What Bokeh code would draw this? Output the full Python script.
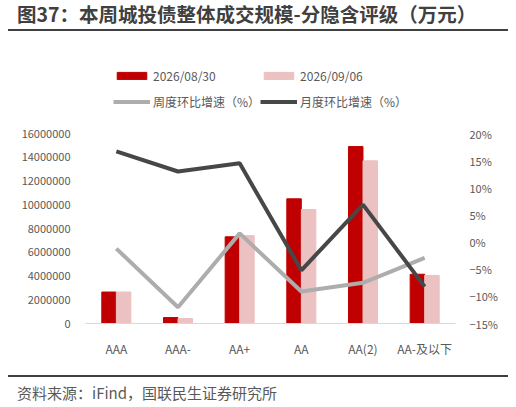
from bokeh.plotting import figure
from bokeh.models import (FactorRange, Range1d, LinearAxis, FixedTicker, Legend, LegendItem,
                          Div, ColumnDataSource, BasicTickFormatter)
from bokeh.transform import dodge
from bokeh.layouts import column
from bokeh.embed import file_html
from bokeh.resources import INLINE

categories = ["AAA", "AAA-", "AA+", "AA", "AA(2)", "AA-及以下"]
vol_0830 = [2650000, 500000, 7300000, 10500000, 14900000, 4150000]
vol_0906 = [2650000, 420000, 7400000, 9600000, 13700000, 4050000]
weekly_pct = [-1.2, -12.0, 1.6, -9.1, -7.5, -2.9]
monthly_pct = [16.7, 13.0, 14.5, -5.2, 6.9, -8.2]
left_ticks = [0, 2000000, 4000000, 6000000, 8000000, 10000000, 12000000, 14000000, 16000000]
right_ticks = [-15, -10, -5, 0, 5, 10, 15, 20]
right_labels = ["\u221215%", "\u221210%", "\u22125%", "0%", "5%", "10%", "15%", "20%"]
series_names = ["2026/08/30", "2026/09/06", "周度环比增速（%）", "月度环比增速（%）"]
title_text = "图37：本周城投债整体成交规模-分隐含评级（万元）"
source_text = "资料来源：iFind，国联民生证券研究所"

FONT = "Noto Sans CJK SC"
TXT = "#595959"

# plot frame is extended upward so that the legend sits inside it (space above the 16M / 20% ticks)
AXIS_PX = 190.0
FRAME_PX = 263.0
left_max = left_ticks[-1] * FRAME_PX / AXIS_PX
right_max = right_ticks[0] + (right_ticks[-1] - right_ticks[0]) * FRAME_PX / AXIS_PX

src = ColumnDataSource(dict(cat=categories, v1=vol_0830, v2=vol_0906, w=weekly_pct, m=monthly_pct))

p = figure(x_range=FactorRange(*categories), y_range=Range1d(0, left_max),
           width=500, height=342, output_backend="svg", toolbar_location=None,
           min_border_left=77, min_border_right=53, min_border_top=27, min_border_bottom=52)
p.extra_y_ranges = {"pct": Range1d(right_ticks[0], right_max)}
p.outline_line_color = None
p.xgrid.visible = False
p.ygrid.visible = False

r1 = p.vbar(x=dodge("cat", -0.118, range=p.x_range), top="v1", width=0.235, source=src,
            fill_color="#C00000", line_color="#C00000")
r2 = p.vbar(x=dodge("cat", 0.118, range=p.x_range), top="v2", width=0.235, source=src,
            fill_color="#EBC1C1", line_color="#EBC1C1")
r3 = p.line(x="cat", y="w", source=src, y_range_name="pct", line_color="#ADADAD", line_width=4)
r4 = p.line(x="cat", y="m", source=src, y_range_name="pct", line_color="#474747", line_width=4)

ya = p.yaxis[0]
ya.ticker = FixedTicker(ticks=left_ticks)
ya.formatter = BasicTickFormatter(use_scientific=False)
ya.axis_line_color = None
ya.major_tick_line_color = None
ya.minor_tick_line_color = None
ya.major_label_text_font = FONT
ya.major_label_text_font_size = "11px"
ya.major_label_text_color = TXT
ya.major_label_standoff = 9

ra = LinearAxis(y_range_name="pct", ticker=FixedTicker(ticks=right_ticks),
                major_label_overrides={t: l for t, l in zip(right_ticks, right_labels)})
ra.axis_line_color = None
ra.major_tick_line_color = None
ra.minor_tick_line_color = None
ra.major_label_text_font = FONT
ra.major_label_text_font_size = "11px"
ra.major_label_text_color = TXT
ra.major_label_standoff = 8
p.add_layout(ra, "right")

xa = p.xaxis[0]
xa.axis_line_color = "#D9D9D9"
xa.major_tick_line_color = None
xa.minor_tick_line_color = None
xa.major_label_text_font = FONT
xa.major_label_text_font_size = "12px"
xa.major_label_text_color = TXT
xa.major_label_standoff = 10

legend = Legend(items=[LegendItem(label=series_names[0], renderers=[r1]),
                       LegendItem(label=series_names[1], renderers=[r2]),
                       LegendItem(label=series_names[2], renderers=[r3]),
                       LegendItem(label=series_names[3], renderers=[r4])],
                orientation="horizontal", ncols=2,
                location=(28, 209), padding=0, margin=0, spacing=0,
                glyph_width=37, glyph_height=9, label_height=26, label_standoff=3,
                label_text_font=FONT, label_text_font_size="12px", label_text_color=TXT,
                border_line_color=None, background_fill_alpha=0)
p.add_layout(legend, "center")

title = Div(text=f'<div style="font-family:\'{FONT}\';font-size:19.5px;font-weight:bold;color:#404040;'
                 f'width:500px;height:31px;line-height:28px;padding-left:9px;box-sizing:border-box;'
                 f'border-bottom:2px solid #404040;white-space:nowrap;">{title_text}</div>',
            width=500, height=33, margin=(0, 0, 0, 0))
source = Div(text=f'<div style="font-family:\'{FONT}\';font-size:15px;color:{TXT};'
                  f'width:500px;height:26px;line-height:20px;padding-top:6px;padding-left:9px;'
                  f'box-sizing:border-box;border-top:2px solid #404040;white-space:nowrap;">{source_text}</div>',
             width=500, height=26, margin=(0, 0, 0, 0))

layout = column(title, p, source, spacing=0, margin=(0, 8, 0, 8))
open("out.html", "w").write(file_html(layout, INLINE))
